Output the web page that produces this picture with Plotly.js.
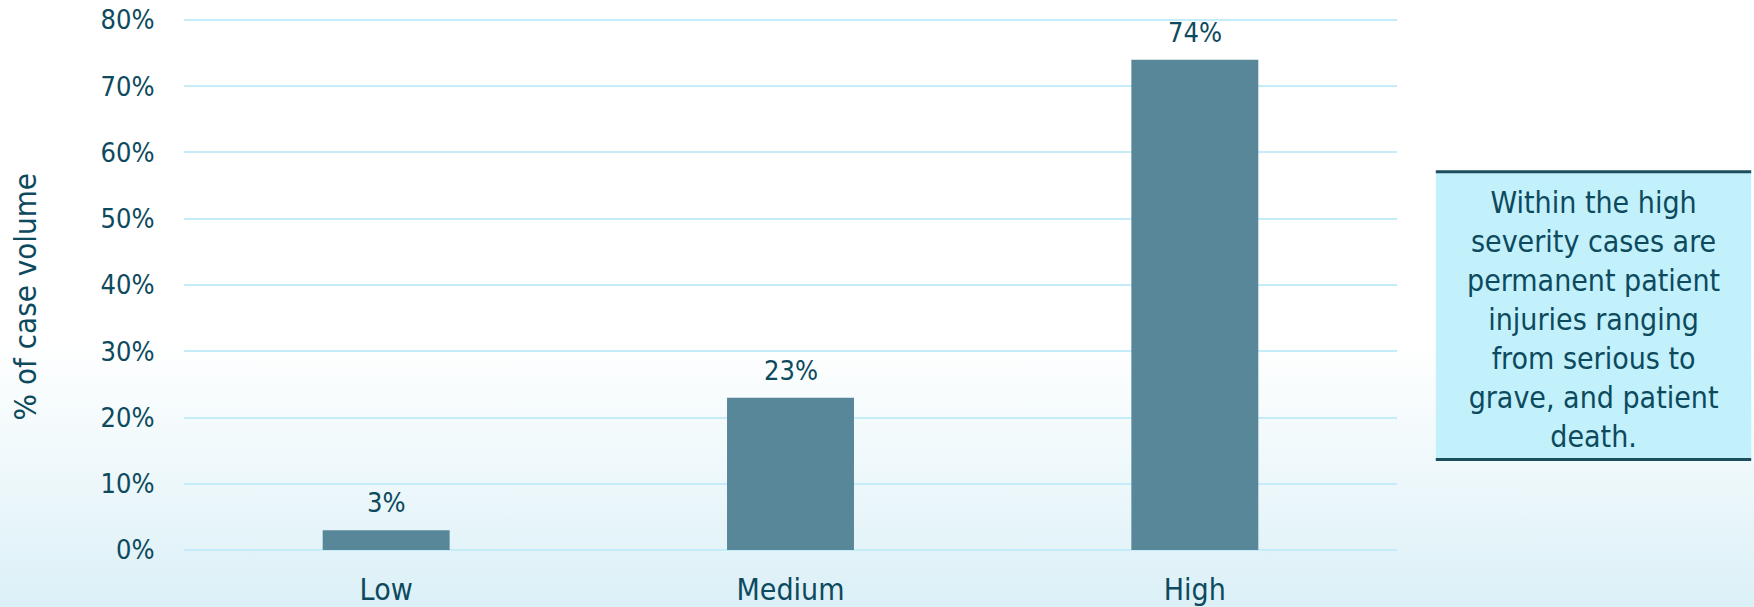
<!DOCTYPE html>
<html>
<head>
<meta charset="utf-8">
<script src="https://cdn.plot.ly/plotly-3.0.1.min.js"></script>
<style>
  html, body { margin: 0; padding: 0; width: 1754px; height: 607px; overflow: hidden;
    background: linear-gradient(to bottom, #ffffff 0%, #ffffff 56%, #eef8fb 78%, #dbf0f7 100%); }
  #chart { width: 1754px; height: 607px; }
</style>
</head>
<body>
<div id="chart"></div>
<script>
const categories = ["Low", "Medium", "High"];
const values = [3, 23, 74];
const valueLabels = ["3%", "23%", "74%"];
const yTicks = [0, 10, 20, 30, 40, 50, 60, 70, 80];
const yTickLabels = ["0%", "10%", "20%", "30%", "40%", "50%", "60%", "70%", "80%"];
const yTitle = "% of case volume";
const noteText = "Within the high<br>severity cases are<br>permanent patient<br>injuries ranging<br>from serious to<br>grave, and patient<br>death.";

const textColor = "#0d4a5e";
const fontFam = "'DejaVu Sans Condensed', 'DejaVu Sans', sans-serif";

const trace = {
  type: "bar",
  x: categories,
  y: values,
  marker: { color: "#588799" },
  hoverinfo: "none"
};

const valueAnnotations = categories.map((c, i) => ({
  x: c, y: values[i], xref: "x", yref: "y",
  text: valueLabels[i], showarrow: false,
  xanchor: "center", yanchor: "bottom", yshift: 10,
  font: { family: fontFam, size: 27, color: textColor }
}));

const layout = {
  width: 1754, height: 607,
  paper_bgcolor: "rgba(0,0,0,0)",
  plot_bgcolor: "rgba(0,0,0,0)",
  margin: { l: 184, r: 357, t: 18, b: 55 },
  bargap: 0.686,
  showlegend: false,
  xaxis: {
    type: "category",
    showgrid: false, zeroline: false, showline: false,
    ticks: "outside", ticklen: 11, tickcolor: "rgba(0,0,0,0)",
    tickfont: { family: fontFam, size: 30, color: textColor }
  },
  yaxis: {
    range: [-0.3, 80.3],
    tickvals: yTicks, ticktext: yTickLabels,
    showgrid: true, gridcolor: "#c4ecf9", gridwidth: 2,
    zeroline: false, showline: false,
    ticks: "outside", ticklen: 23, tickcolor: "rgba(0,0,0,0)",
    tickfont: { family: fontFam, size: 27, color: textColor }
  },
  shapes: [
    { type: "rect", xref: "paper", yref: "paper", x0: 1.032, x1: 1.292, y0: 0.173, y1: 0.712,
      fillcolor: "#c2f0fb", line: { width: 0 } },
    { type: "line", xref: "paper", yref: "paper", x0: 1.032, x1: 1.292, y0: 0.712, y1: 0.712,
      line: { color: "#1d4e5e", width: 3 } },
    { type: "line", xref: "paper", yref: "paper", x0: 1.032, x1: 1.292, y0: 0.173, y1: 0.173,
      line: { color: "#1d4e5e", width: 3 } }
  ],
  annotations: valueAnnotations.concat([
    { xref: "paper", yref: "paper", x: 1.162, y: 0.436, xanchor: "center", yanchor: "middle",
      text: noteText, showarrow: false, align: "center",
      font: { family: fontFam, size: 30, color: textColor } },
    { xref: "paper", yref: "paper", x: -0.131, y: 0.477, xanchor: "center", yanchor: "middle",
      text: yTitle, textangle: -90, showarrow: false,
      font: { family: fontFam, size: 31, color: textColor } }
  ])
};

Plotly.newPlot("chart", [trace], layout, { displayModeBar: false, staticPlot: true });
</script>
</body>
</html>
